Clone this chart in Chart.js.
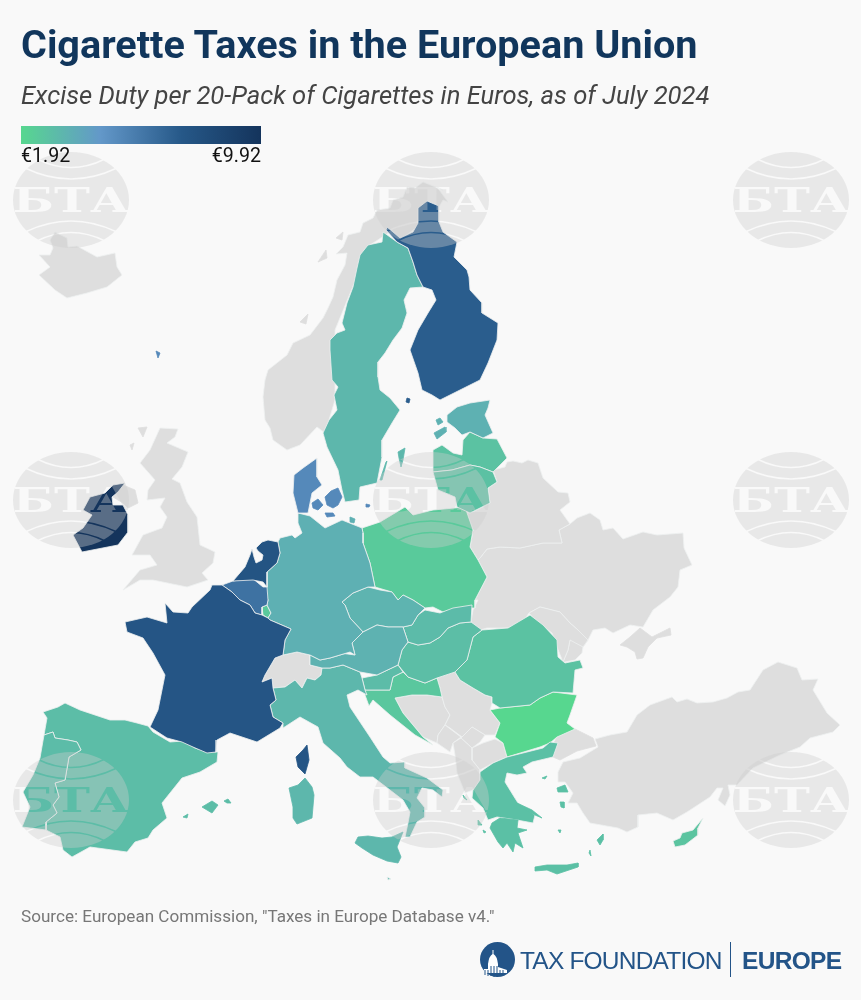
<!DOCTYPE html>
<html>
<head>
<meta charset="utf-8">
<title>Cigarette Taxes in the European Union</title>
<script src="https://cdn.jsdelivr.net/npm/chart.js@4"></script>
<style>
  body { margin: 0; background: #f9f9f9; font-family: Roboto, sans-serif; }
  #page { position: relative; width: 861px; height: 1000px; overflow: hidden; }
  #myMap { position: absolute; left: 0; top: 0; }
  .txt { position: absolute; white-space: nowrap; line-height: 1; }
  #title { left: 21px; top: 25px; font-size: 39.6px; font-weight: 700; color: #11365c; }
  #subtitle { left: 21px; top: 83px; font-size: 25.6px; font-style: italic; color: #444; }
  #bar { position: absolute; left: 21px; top: 126px; width: 240px; height: 18px; }
  #low { left: 21px; top: 146px; font-size: 19.6px; color: #111; }
  #high { right: 600px; top: 146px; font-size: 19.6px; color: #111; }
  #source { left: 21px; top: 908px; font-size: 17.1px; color: #777; }
  #tf { left: 520px; top: 947px; font: 24.5px "Liberation Sans"; color: #235488; letter-spacing: -0.8px; }
  #eu { left: 742px; top: 947px; font: bold 24.5px "Liberation Sans"; color: #235488; letter-spacing: -0.7px; }
  #rule { position: absolute; left: 730px; top: 942px; width: 1px; height: 35px; background: #235488; }
  #seal { position: absolute; left: 480px; top: 942px; }
</style>
</head>
<body>
<div id="page">
  <canvas id="myMap" width="861" height="1000"></canvas>
  <div class="txt" id="title">Cigarette Taxes in the European Union</div>
  <div class="txt" id="subtitle">Excise Duty per 20-Pack of Cigarettes in Euros, as of July 2024</div>
  <div id="bar"></div>
  <div class="txt" id="low"></div>
  <div class="txt" id="high"></div>
  <div class="txt" id="source">Source: European Commission, "Taxes in Europe Database v4."</div>
  <svg id="seal" width="35" height="35" viewBox="0 0 35 35">
    <circle cx="17.5" cy="17.5" r="17.5" fill="#235488"/>
    <path d="M4 31 L4 27 L8 27 L8 22 Q9 14 12.5 12 L12.5 8 L13.5 8 L13.5 12 Q17 14 18 22 L18 25 L27 28 L27 31 Z" fill="#fff"/>
    <path d="M5 28 V33 M8 28 V34 M11 24 V34 M14 24 V35 M17 24 V35 M20 28 V34 M23 28 V33" stroke="#235488" stroke-width="1"/>
  </svg>
  <div class="txt" id="tf">TAX FOUNDATION</div>
  <div id="rule"></div>
  <div class="txt" id="eu">EUROPE</div>
</div>

<script>
  // excise duty, euros per 20-pack
  var countries = ["Bulgaria", "Poland", "Luxembourg", "Croatia", "Cyprus", "Romania", "Latvia", "Lithuania", "Greece", "Hungary", "Spain", "Portugal", "Slovenia", "Slovakia", "Italy", "Malta", "Sweden", "Czechia", "Austria", "Estonia", "Germany", "Denmark", "Belgium", "Finland", "France", "Netherlands", "Ireland"];
  var dutyEuro = [1.92, 2.45, 2.5, 2.6, 2.7, 2.8, 2.8, 2.85, 2.9, 2.95, 3.0, 3.05, 3.05, 3.1, 3.25, 3.25, 3.25, 3.4, 3.45, 3.5, 3.55, 5.2, 6.2, 7.1, 7.5, 7.6, 9.92];
  var legendLabels = ["€1.92", "€9.92"];
  var scaleStops = [1.92, 4.56, 7.3, 9.92];
  var scaleColors = [[87, 215, 143], [99, 152, 201], [38, 88, 136], [20, 52, 92]];

  // outlines in map units, x,y pairs. A country may have several parts.
  var bulgaria = [[500,708, 530,705, 540,698, 553,692, 577,695, 570,715, 567,723, 575,729, 557,737, 550,743, 540,747, 507,757, 503,743, 495,737, 500,723, 490,710]];
  var poland = [[362,528, 380,522, 405,507, 413,515, 433,510, 465,507, 473,530, 470,547, 478,560, 487,577, 475,600, 475,608, 460,608, 443,612, 433,607, 425,608, 413,600, 403,595, 398,600, 392,592, 375,587, 370,563, 363,543, 363,533]];
  var luxembourg = [[262,607, 267,605, 271,613, 268,618, 263,615]];
  var croatia = [[403,672, 408,677, 425,683, 437,678, 440,688, 442,697, 427,695, 412,695, 395,698, 403,713, 423,737, 433,745, 415,735, 390,715, 373,700, 369,706, 365,695, 365,690, 390,690, 393,677]];
  var cyprus = [[703,818, 698,828, 698,835, 685,845, 675,847, 673,841, 680,838, 682,833, 693,830]];
  var romania = [[482,630, 508,628, 530,615, 543,625, 557,640, 558,657, 565,663, 580,660, 583,668, 575,670, 573,693, 553,692, 540,698, 530,705, 500,708, 492,703, 492,697, 485,695, 473,688, 460,680, 455,672, 467,660, 473,637]];
  var latvia = [[433,450, 442,445, 453,453, 462,455, 463,440, 470,432, 483,438, 497,439, 507,458, 493,472, 480,467, 470,465, 452,470, 433,472]];
  var lithuania = [[433,472, 452,470, 470,465, 480,467, 493,472, 497,482, 488,488, 490,503, 470,513, 457,507, 455,497, 438,490]];
  var greece = [
    [480,772, 493,763, 507,757, 543,748, 550,742, 558,743, 553,757, 532,762, 523,767, 527,773, 517,775, 507,773, 505,782, 513,795, 518,803, 535,815, 533,823, 517,820, 497,817, 488,820, 483,808, 472,798, 473,790, 480,780],
    [492,823, 500,818, 518,820, 517,828, 527,830, 518,833, 523,848, 515,843, 513,852, 507,843, 503,848, 498,842, 490,828],
    [517,803, 532,810, 542,818, 535,815, 522,808],
    [535,867, 547,865, 567,865, 578,863, 578,867, 557,874, 547,870, 535,871],
    [557,788, 565,785, 568,792, 558,792],
    [560,802, 564,802, 564,808, 561,807],
    [597,840, 603,834, 603,840, 600,845],
    [590,850, 591,856, 589,853],
    [542,778, 547,776, 545,779],
    [558,830, 561,830, 560,833],
    [463,795, 467,800, 464,798],
    [478,820, 482,825, 478,825],
    [483,830, 486,832, 484,833]
  ];
  var hungary = [[418,645, 430,643, 440,637, 448,628, 460,623, 471,622, 482,630, 473,637, 467,660, 455,672, 437,678, 425,683, 408,677, 398,665, 402,650, 408,642]];
  var spain = [
    [43,712, 58,707, 65,703, 80,710, 110,720, 125,720, 137,723, 148,726, 153,732, 170,742, 183,741, 195,748, 207,752, 218,752, 217,762, 200,772, 182,778, 162,803, 167,818, 153,830, 148,838, 135,842, 127,852, 90,847, 72,857, 63,850, 60,837, 46,830, 46,822, 57,813, 53,805, 59,797, 55,783, 65,780, 69,757, 81,750, 77,742, 68,740, 55,738, 53,732, 44,735, 47,718],
    [202,807, 212,801, 218,805, 212,813],
    [224,801, 228,799, 231,803, 227,803],
    [183,817, 188,814, 187,818]
  ];
  var portugal = [[44,735, 53,732, 55,738, 68,740, 77,742, 81,750, 69,757, 65,780, 55,783, 59,797, 53,805, 57,813, 46,822, 46,830, 22,827, 30,807, 23,792, 33,775, 40,758]];
  var slovenia = [[362,678, 377,675, 398,665, 403,672, 393,677, 390,690, 378,690, 365,690]];
  var slovakia = [[425,610, 440,613, 453,608, 472,605, 471,622, 460,623, 448,628, 440,637, 430,643, 418,645, 408,642, 403,627, 412,625, 418,615]];
  var italy = [
    [273,688, 285,687, 295,680, 302,688, 307,678, 315,680, 321,675, 322,668, 330,668, 343,665, 360,672, 362,678, 365,690, 367,695, 358,690, 347,695, 350,707, 370,737, 383,757, 390,763, 405,762, 405,768, 427,778, 443,790, 442,797, 433,790, 422,788, 417,798, 425,808, 425,817, 417,822, 410,837, 405,837, 408,823, 410,812, 403,800, 390,790, 373,777, 360,777, 347,767, 340,758, 323,743, 318,727, 300,717, 283,728, 283,723, 273,717, 270,705, 276,700],
    [355,843, 358,837, 368,836, 382,838, 392,837, 403,832, 397,847, 401,857, 398,863, 387,861, 373,855, 362,848],
    [305,778, 312,787, 314,795, 312,818, 302,822, 297,824, 293,818, 293,807, 289,788, 298,785]
  ];
  var malta = [[387,877, 391,879, 388,880]];
  var sweden = [
    [383,232, 397,242, 408,248, 413,262, 417,275, 423,287, 410,288, 404,300, 407,313, 402,328, 393,340, 385,353, 378,362, 378,377, 380,390, 390,398, 400,410, 392,423, 382,440, 382,457, 377,483, 360,487, 359,500, 345,502, 342,490, 338,470, 327,447, 323,433, 329,420, 337,410, 334,395, 338,387, 332,380, 330,350, 330,340, 337,333, 345,330, 342,323, 347,303, 353,287, 357,268, 360,255, 368,245, 382,242],
    [398,452, 405,448, 403,460, 401,467, 399,458],
    [386,462, 387,461, 382,480, 380,480]
  ];
  var czechia = [[342,602, 353,593, 368,587, 380,590, 392,592, 398,600, 403,595, 413,600, 425,608, 418,615, 412,625, 403,627, 388,627, 377,625, 363,632, 350,618, 345,605]];
  var austria = [[340,653, 355,655, 352,643, 363,632, 377,625, 388,627, 403,627, 408,642, 402,650, 398,665, 377,675, 360,672, 343,665, 330,668, 322,668, 310,665, 310,655, 320,660, 330,658, 350,652]];
  var estonia = [
    [447,415, 457,407, 470,403, 490,400, 488,408, 485,415, 493,433, 483,438, 470,432, 462,435, 455,428, 447,422],
    [434,433, 445,427, 446,432, 437,439],
    [436,420, 440,418, 443,422, 438,425]
  ];
  var germany = [
    [298,513, 310,516, 325,528, 342,520, 362,528, 363,533, 363,543, 370,563, 375,587, 368,587, 353,593, 342,602, 345,605, 350,618, 363,632, 352,643, 355,655, 350,652, 330,658, 320,660, 310,655, 297,652, 283,655, 285,640, 291,629, 270,620, 268,618, 271,613, 267,605, 268,600, 265,592, 267,587, 267,572, 277,563, 280,553, 278,542, 280,538, 292,535, 295,538, 302,533, 298,523],
    [350,517, 355,519, 354,523, 350,522]
  ];
  var denmark = [
    [317,458, 317,477, 322,485, 312,493, 308,513, 298,513, 293,493, 294,475, 303,468],
    [325,497, 331,491, 338,488, 342,497, 338,505, 333,508, 327,505],
    [312,503, 318,499, 323,505, 318,510, 313,508],
    [325,513, 333,513, 335,516, 327,517],
    [366,504, 370,505, 369,507, 366,507],
    [156,351, 160,353, 158,358]
  ];
  var belgium = [[222,585, 233,581, 252,578, 263,587, 267,587, 268,600, 267,605, 262,607, 262,615, 255,613, 250,605, 240,600, 232,592]];
  var finland = [
    [387,227, 393,232, 400,238, 413,232, 418,223, 418,208, 427,201, 439,206, 439,222, 443,232, 457,242, 454,257, 467,270, 469,277, 470,290, 482,303, 482,313, 498,323, 497,340, 488,363, 480,380, 440,400, 432,395, 422,390, 418,373, 410,350, 418,330, 428,313, 436,300, 432,290, 423,287, 417,275, 413,262, 408,248, 397,242, 386,230],
    [407,398, 410,399, 409,403, 406,402]
  ];
  var france = [
    [212,585, 222,585, 232,592, 240,600, 250,605, 255,613, 262,615, 268,618, 270,620, 291,629, 285,640, 283,655, 275,658, 265,675, 262,682, 272,678, 273,688, 276,700, 270,705, 273,717, 283,723, 280,728, 257,742, 230,733, 217,740, 216,752, 207,753, 193,747, 182,742, 167,738, 150,727, 158,710, 165,675, 153,653, 143,638, 127,632, 125,622, 147,617, 167,623, 165,603, 173,612, 188,613, 192,607, 210,590],
    [307,745, 309,760, 305,774, 298,767, 296,757, 303,750]
  ];
  var netherlands = [[268,540, 278,542, 280,553, 277,563, 267,572, 267,587, 263,582, 253,580, 233,581, 245,567, 250,555, 252,549, 254,557, 256,563, 262,560, 263,555, 258,551, 256,548, 262,542]];
  var ireland = [
    [90,497, 105,493, 113,485, 125,483, 118,492, 112,497, 113,505, 123,505, 128,515, 128,532, 118,545, 82,552, 73,535, 83,528, 92,515, 83,510]
  ];
  var outlines = [bulgaria, poland, luxembourg, croatia, cyprus, romania, latvia, lithuania, greece, hungary, spain, portugal, slovenia, slovakia, italy, malta, sweden, czechia, austria, estonia, germany, denmark, belgium, finland, france, netherlands, ireland];

  // countries outside the EU, drawn grey underneath
  var greyColor = "#dedede";
  var iceland = [[39,255, 50,255, 53,248, 50,240, 55,232, 67,238, 68,247, 77,246, 97,257, 115,253, 117,267, 122,275, 107,287, 87,293, 67,298, 55,290, 39,275, 50,267]];
  var norway = [
    [443,190, 423,182, 415,188, 407,187, 403,197, 393,200, 390,208, 377,210, 373,218, 363,223, 360,232, 348,235, 343,247, 336,254, 347,253, 345,265, 337,280, 333,297, 328,308, 323,318, 310,335, 293,343, 287,355, 268,370, 265,380, 263,397, 265,420, 270,428, 273,440, 287,450, 300,445, 317,427, 325,433, 335,400, 335,330, 370,245, 390,232, 400,240, 420,225, 420,210, 427,203, 439,207, 443,200, 448,202, 437,187],
    [336,238, 343,232, 342,240],
    [318,262, 326,250, 327,258],
    [300,322, 308,314, 306,324]
  ];
  var britain = [
    [160,428, 178,429, 175,437, 167,443, 188,452, 182,467, 172,479, 180,483, 187,502, 197,517, 200,545, 215,552, 213,563, 202,573, 208,580, 187,587, 153,580, 140,580, 123,590, 140,570, 157,565, 150,555, 132,555, 143,535, 162,528, 167,517, 160,507, 165,498, 147,500, 148,490, 155,480, 140,463, 150,450],
    [123,485, 135,490, 138,503, 128,508, 123,503, 113,497],
    [138,428, 147,427, 143,437],
    [130,445, 134,443, 132,450]
  ];
  var switzerland = [[275,658, 283,655, 297,652, 310,655, 310,665, 322,668, 321,675, 315,680, 307,678, 302,688, 295,680, 285,687, 273,688, 272,678, 262,682, 265,675]];
  var bosnia = [[395,698, 412,695, 427,695, 442,697, 445,707, 450,715, 445,725, 438,735, 437,743, 423,737, 403,713]];
  var serbia = [[437,678, 450,672, 455,672, 460,680, 473,688, 485,695, 492,697, 492,703, 490,710, 500,723, 495,735, 485,735, 472,727, 462,737, 450,728, 445,725, 450,715, 445,707, 442,697, 440,688]];
  var kosovo = [[472,727, 485,735, 480,742, 472,748, 461,738]];
  var montenegro = [[438,735, 445,725, 461,737, 453,743, 450,752, 437,743]];
  var macedonia = [[472,748, 483,743, 495,739, 503,743, 507,757, 493,763, 480,770, 472,760]];
  var albania = [[453,743, 461,738, 472,748, 472,760, 480,770, 480,780, 473,790, 465,793, 457,773, 455,755]];
  var ukraine = [
    [480,558, 487,549, 500,547, 520,548, 543,543, 562,543, 559,530, 570,524, 577,518, 590,513, 600,520, 603,530, 613,528, 623,539, 643,532, 657,535, 683,533, 684,548, 692,565, 680,570, 678,587, 670,597, 653,610, 643,627, 630,625, 613,633, 605,628, 593,630, 588,640, 583,647, 582,653, 575,660, 565,662, 563,662, 568,650, 570,640, 578,630, 570,623, 560,612, 540,607, 529,613, 523,622, 508,628, 487,628, 480,630, 471,622, 473,610, 478,600, 475,600, 487,577, 478,560],
    [620,645, 630,637, 640,628, 652,637, 670,628, 671,635, 657,638, 648,647, 643,658, 637,659, 635,652, 627,647]
  ];
  var moldova = [[529,613, 540,607, 560,612, 570,623, 578,630, 588,640, 583,647, 570,640, 568,650, 563,662, 557,647, 552,633, 535,620]];
  var belarus = [[480,558, 487,549, 500,547, 520,548, 543,543, 562,543, 559,530, 570,524, 560,510, 570,502, 568,493, 558,492, 543,478, 538,463, 528,460, 522,463, 513,461, 507,462, 505,467, 493,470, 497,482, 488,488, 490,503, 470,513, 467,513, 473,530, 470,547, 478,560]];
  var turkey = [
    [595,739, 610,735, 627,732, 637,715, 650,705, 672,697, 677,702, 687,699, 697,703, 713,702, 727,698, 738,692, 750,690, 763,670, 778,662, 797,668, 802,680, 818,679, 813,690, 827,713, 840,725, 833,732, 810,738, 800,747, 780,755, 753,768, 737,785, 728,785, 730,795, 725,806, 718,800, 723,788, 717,788, 710,797, 687,812, 673,820, 657,813, 638,815, 638,827, 627,832, 618,828, 590,823, 583,813, 577,803, 568,803, 573,793, 565,782, 558,782, 558,772, 563,762, 580,758, 598,747],
    [557,737, 575,729, 593,738, 596,746, 577,751, 560,760, 553,757, 553,745]
  ];
  var greyOutlines = [iceland, norway, britain, switzerland, ukraine, moldova, belarus, bosnia, serbia, kosovo, montenegro, macedonia, albania, turkey];

  function dutyColor(value) {
    var i = 0;
    while (i < scaleStops.length - 2 && value > scaleStops[i + 1]) i++;
    var t = (value - scaleStops[i]) / (scaleStops[i + 1] - scaleStops[i]);
    var a = scaleColors[i], b = scaleColors[i + 1];
    return "rgb(" + Math.round(a[0] + (b[0] - a[0]) * t) + "," + Math.round(a[1] + (b[1] - a[1]) * t) + "," + Math.round(a[2] + (b[2] - a[2]) * t) + ")";
  }

  function toPoints(flat) {
    var pts = [];
    for (var i = 0; i < flat.length; i += 2) pts.push({ x: flat[i], y: flat[i + 1] });
    pts.push({ x: flat[0], y: flat[1] });
    return pts;
  }

  function addParts(list, label, parts, color) {
    parts.forEach(function (flat, p) {
      list.push({
        label: label,
        data: toPoints(flat),
        showLine: true,
        fill: "shape",
        tension: 0,
        pointRadius: 0,
        pointHoverRadius: 0,
        backgroundColor: color,
        // islands keep their own colour so the pale border does not eat them
        borderColor: p == 0 ? "#eef0f0" : color,
        borderWidth: 0.8,
        borderJoinStyle: "round"
      });
    });
  }

  var datasets = [];
  greyOutlines.forEach(function (parts) { addParts(datasets, "Non-EU", parts, greyColor); });
  outlines.forEach(function (parts, i) { addParts(datasets, countries[i], parts, dutyColor(dutyEuro[i])); });
  datasets.reverse(); // first dataset is painted last in Chart.js

  // agency stamp repeated over the picture, cut-outs let the map show through
  var stampCols = [71, 431, 791];
  var stampRows = [200, 500, 800];
  function makeStamp() {
    var c = document.createElement("canvas");
    c.width = 116; c.height = 96;
    var g = c.getContext("2d");
    g.fillStyle = "rgba(204,204,204,0.375)";
    g.beginPath();
    g.ellipse(58, 48, 58, 48, 0, 0, Math.PI * 2);
    g.fill();
    g.globalCompositeOperation = "destination-out";
    g.strokeStyle = "#000";
    g.lineWidth = 1.5;
    [[24, 7, 58, 24, 92], [12, 16, 58, 38, 104]].forEach(function (a) {
      g.beginPath(); g.moveTo(a[0], a[1]); g.quadraticCurveTo(a[2], a[3], a[4], a[1]); g.stroke();
      g.beginPath(); g.moveTo(a[0], 96 - a[1]); g.quadraticCurveTo(a[2], 96 - a[3], a[4], 96 - a[1]); g.stroke();
    });
    g.save();
    g.translate(58, 60);
    g.scale(1.42, 1);
    g.font = "bold 34px 'DejaVu Serif'";
    g.textAlign = "center";
    g.fillStyle = "#000";
    g.fillText("БТА", 0, 0);
    g.restore();
    return c;
  }

  var stampPlugin = {
    id: "stamp",
    afterDraw: function (chart) {
      var stamp = makeStamp();
      stampRows.forEach(function (y) {
        stampCols.forEach(function (x) {
          chart.ctx.drawImage(stamp, x - 58, y - 48);
        });
      });
    }
  };

  document.getElementById("low").textContent = legendLabels[0];
  document.getElementById("high").textContent = legendLabels[1];
  var barParts = scaleColors.map(function (c, i) {
    return "rgb(" + c.join(",") + ") " + Math.round((scaleStops[i] - scaleStops[0]) / (scaleStops[3] - scaleStops[0]) * 100) + "%";
  });
  document.getElementById("bar").style.background = "linear-gradient(90deg," + barParts.join(",") + ")";

  var myMap = new Chart(document.getElementById("myMap").getContext("2d"), {
    type: "scatter",
    data: { datasets: datasets },
    options: {
      responsive: false,
      animation: false,
      layout: { padding: 0 },
      plugins: { legend: { display: false }, tooltip: { enabled: false } },
      scales: {
        x: { type: "linear", min: 0, max: 861, display: false },
        y: { type: "linear", min: 0, max: 1000, reverse: true, display: false }
      }
    },
    plugins: [stampPlugin]
  });
</script>
</body>
</html>
